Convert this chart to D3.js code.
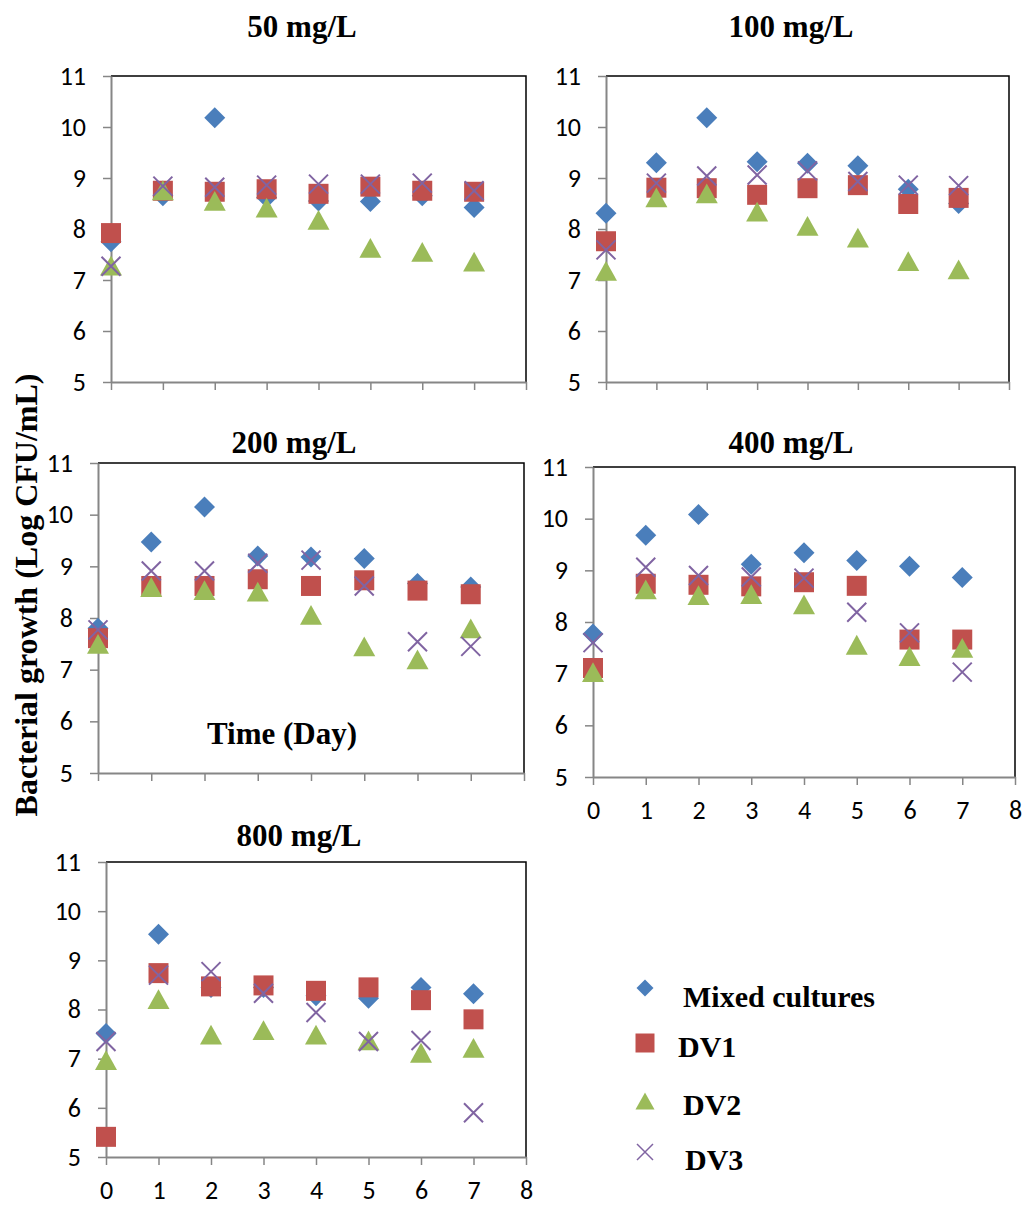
<!DOCTYPE html>
<html>
<head>
<meta charset="utf-8">
<script src="https://cdn.jsdelivr.net/npm/d3@7"></script>
<style>
  html, body { margin: 0; padding: 0; background: #fff; }
  svg { display: block; }
</style>
</head>
<body>
<svg id="chart" width="1027" height="1207"></svg>
<script>
// ---- data: bacterial growth (log CFU/mL) per sampling day ----
const days = [0, 1, 2, 3, 4, 5, 6, 7];
const xTickValues = [0, 1, 2, 3, 4, 5, 6, 7, 8];
const yTickValues = [5, 6, 7, 8, 9, 10, 11];
const seriesNames = ["Mixed cultures", "DV1", "DV2", "DV3"];
const concentrations = ["50 mg/L", "100 mg/L", "200 mg/L", "400 mg/L", "800 mg/L"];

const mixed50 = [7.75, 8.65, 10.18, 8.62, 8.55, 8.54, 8.65, 8.42];
const dv1_50  = [7.92, 8.75, 8.73, 8.78, 8.69, 8.83, 8.75, 8.73];
const dv2_50  = [7.28, 8.76, 8.55, 8.42, 8.18, 7.63, 7.55, 7.36];
const dv3_50  = [7.27, 8.84, 8.82, 8.86, 8.88, 8.88, 8.90, 8.75];

const mixed100 = [8.31, 9.30, 10.18, 9.32, 9.29, 9.24, 8.78, 8.50];
const dv1_100  = [7.76, 8.81, 8.80, 8.67, 8.80, 8.86, 8.49, 8.61];
const dv2_100  = [7.18, 8.62, 8.70, 8.34, 8.06, 7.83, 7.37, 7.21];
const dv3_100  = [7.59, 8.90, 9.04, 9.06, 9.14, 8.93, 8.86, 8.85];

const mixed200 = [7.80, 9.47, 10.15, 9.20, 9.18, 9.15, 8.67, 8.60];
const dv1_200  = [7.61, 8.62, 8.62, 8.75, 8.62, 8.73, 8.53, 8.46];
const dv2_200  = [7.50, 8.60, 8.54, 8.51, 8.06, 7.45, 7.20, 7.80];
const dv3_200  = [7.77, 8.91, 8.91, 9.06, 9.12, 8.62, 7.54, 7.45];

const mixed400 = [7.77, 9.68, 10.08, 9.12, 9.34, 9.19, 9.08, 8.86];
const dv1_400  = [7.11, 8.74, 8.72, 8.69, 8.77, 8.70, 7.66, 7.66];
const dv2_400  = [7.03, 8.63, 8.52, 8.54, 8.34, 7.56, 7.34, 7.50];
const dv3_400  = [7.60, 9.06, 8.90, 8.87, 8.85, 8.19, 7.79, 7.03];

const mixed800 = [7.51, 9.53, 8.45, 8.45, 8.28, 8.23, 8.45, 8.32];
const dv1_800  = [5.41, 8.74, 8.47, 8.49, 8.38, 8.45, 8.19, 7.80];
const dv2_800  = [6.97, 8.21, 7.49, 7.58, 7.49, 7.37, 7.12, 7.22];
const dv3_800  = [7.35, 8.70, 8.77, 8.33, 7.94, 7.35, 7.37, 5.90];

const panelSeries = [
  [mixed50, dv1_50, dv2_50, dv3_50],
  [mixed100, dv1_100, dv2_100, dv3_100],
  [mixed200, dv1_200, dv2_200, dv3_200],
  [mixed400, dv1_400, dv2_400, dv3_400],
  [mixed800, dv1_800, dv2_800, dv3_800]
];

// ---- layout of the five small panels ----
const frames = [
  { left: 111, top: 76,  right: 526,  bottom: 382,  titleX: 302, titleY: 37,  xLabels: false },
  { left: 606, top: 76,  right: 1009, bottom: 382,  titleX: 791, titleY: 37,  xLabels: false },
  { left: 98,  top: 463, right: 524,  bottom: 773,  titleX: 294, titleY: 453, xLabels: false },
  { left: 593, top: 467, right: 1015, bottom: 777,  titleX: 791, titleY: 453, xLabels: true  },
  { left: 106, top: 862, right: 526,  bottom: 1157, titleX: 299, titleY: 846, xLabels: true  }
];

const colors = ["#4a7ebb", "#c0504d", "#9bbb59", "#8064a2"];
const serif = "'Liberation Serif', 'Times New Roman', Times, serif";
const sans = "Carlito, Calibri, Lato, 'Open Sans', sans-serif";

// marker shapes centred on (0,0)
function markerPath(kind, s) {
  const h = s / 2;
  if (kind === 0) return `M0,${-h}L${h},0L0,${h}L${-h},0Z`;
  if (kind === 1) return `M${-h},${-h}H${h}V${h}H${-h}Z`;
  if (kind === 2) {
    const th = s * 0.9;
    return `M0,${-th / 2}L${h},${th / 2}L${-h},${th / 2}Z`;
  }
  return `M${-h},${-h}L${h},${h}M${-h},${h}L${h},${-h}`;
}
const markerSizes = [21, 20, 22, 19];

function drawMarker(g, kind, size) {
  const p = g.append("path").attr("d", markerPath(kind, size));
  if (kind === 3) {
    p.attr("fill", "none").attr("stroke", colors[3]).attr("stroke-width", 2);
  } else {
    p.attr("fill", colors[kind]);
  }
  return p;
}

const svg = d3.select("#chart");

frames.forEach((f, i) => {
  const x = d3.scaleLinear().domain([0, 8]).range([f.left, f.right]);
  const y = d3.scaleLinear().domain([5, 11]).range([f.bottom, f.top]);
  const g = svg.append("g");

  // frame: top and right edges
  g.append("path")
    .attr("d", `M${f.left},${f.top}H${f.right}V${f.bottom}`)
    .attr("fill", "none").attr("stroke", "#000").attr("stroke-width", 1.5);

  // y axis
  const yAxis = g.append("g")
    .attr("transform", `translate(${f.left},0)`)
    .call(d3.axisLeft(y).tickValues(yTickValues).tickSize(8).tickSizeOuter(0)
      .tickPadding(17).tickFormat(d3.format("d")));
  // x axis
  const xAxis = g.append("g")
    .attr("transform", `translate(0,${f.bottom})`)
    .call(d3.axisBottom(x).tickValues(xTickValues).tickSize(8).tickSizeOuter(0)
      .tickFormat(f.xLabels ? d3.format("d") : () => ""));

  [yAxis, xAxis].forEach(ax => {
    ax.select(".domain").attr("stroke", "#868686").attr("stroke-width", 2);
    ax.selectAll(".tick line").attr("stroke", "#868686").attr("stroke-width", 1.5);
    ax.selectAll("text").attr("fill", "#000")
      .style("font-family", sans).style("font-size", "26px");
  });
  xAxis.selectAll("text").attr("dy", null).attr("y", 42);

  // title
  g.append("text")
    .attr("x", f.titleX).attr("y", f.titleY)
    .attr("text-anchor", "middle")
    .style("font-family", serif).style("font-weight", "bold").style("font-size", "31px")
    .text(concentrations[i]);

  // points, series in drawing order
  panelSeries[i].forEach((vals, s) => {
    const sg = g.append("g").attr("class", "series-" + s);
    vals.forEach((v, k) => {
      const mg = sg.append("g").attr("transform", `translate(${x(days[k])},${y(v)})`);
      drawMarker(mg, s, markerSizes[s]);
    });
  });
});

// shared axis titles
svg.append("text")
  .attr("transform", "translate(37,595) rotate(-90)")
  .attr("text-anchor", "middle")
  .style("font-family", serif).style("font-weight", "bold").style("font-size", "32px")
  .text("Bacterial growth (Log CFU/mL)");

svg.append("text")
  .attr("x", 282).attr("y", 744)
  .attr("text-anchor", "middle")
  .style("font-family", serif).style("font-weight", "bold").style("font-size", "31px")
  .text("Time (Day)");

// legend
const legendRows = [
  { cy: 988,  tx: 683, ty: 1007 },
  { cy: 1043, tx: 678, ty: 1057 },
  { cy: 1101, tx: 683, ty: 1115 },
  { cy: 1152, tx: 685, ty: 1170 }
];
const legendSizes = [17, 19, 19, 16];
legendRows.forEach((r, s) => {
  const mg = svg.append("g").attr("transform", `translate(645,${r.cy})`);
  drawMarker(mg, s, legendSizes[s]).attr("stroke-width", s === 3 ? 1.5 : null);
  svg.append("text")
    .attr("x", r.tx).attr("y", r.ty)
    .style("font-family", serif).style("font-weight", "bold").style("font-size", "30px")
    .text(seriesNames[s]);
});
</script>
</body>
</html>
